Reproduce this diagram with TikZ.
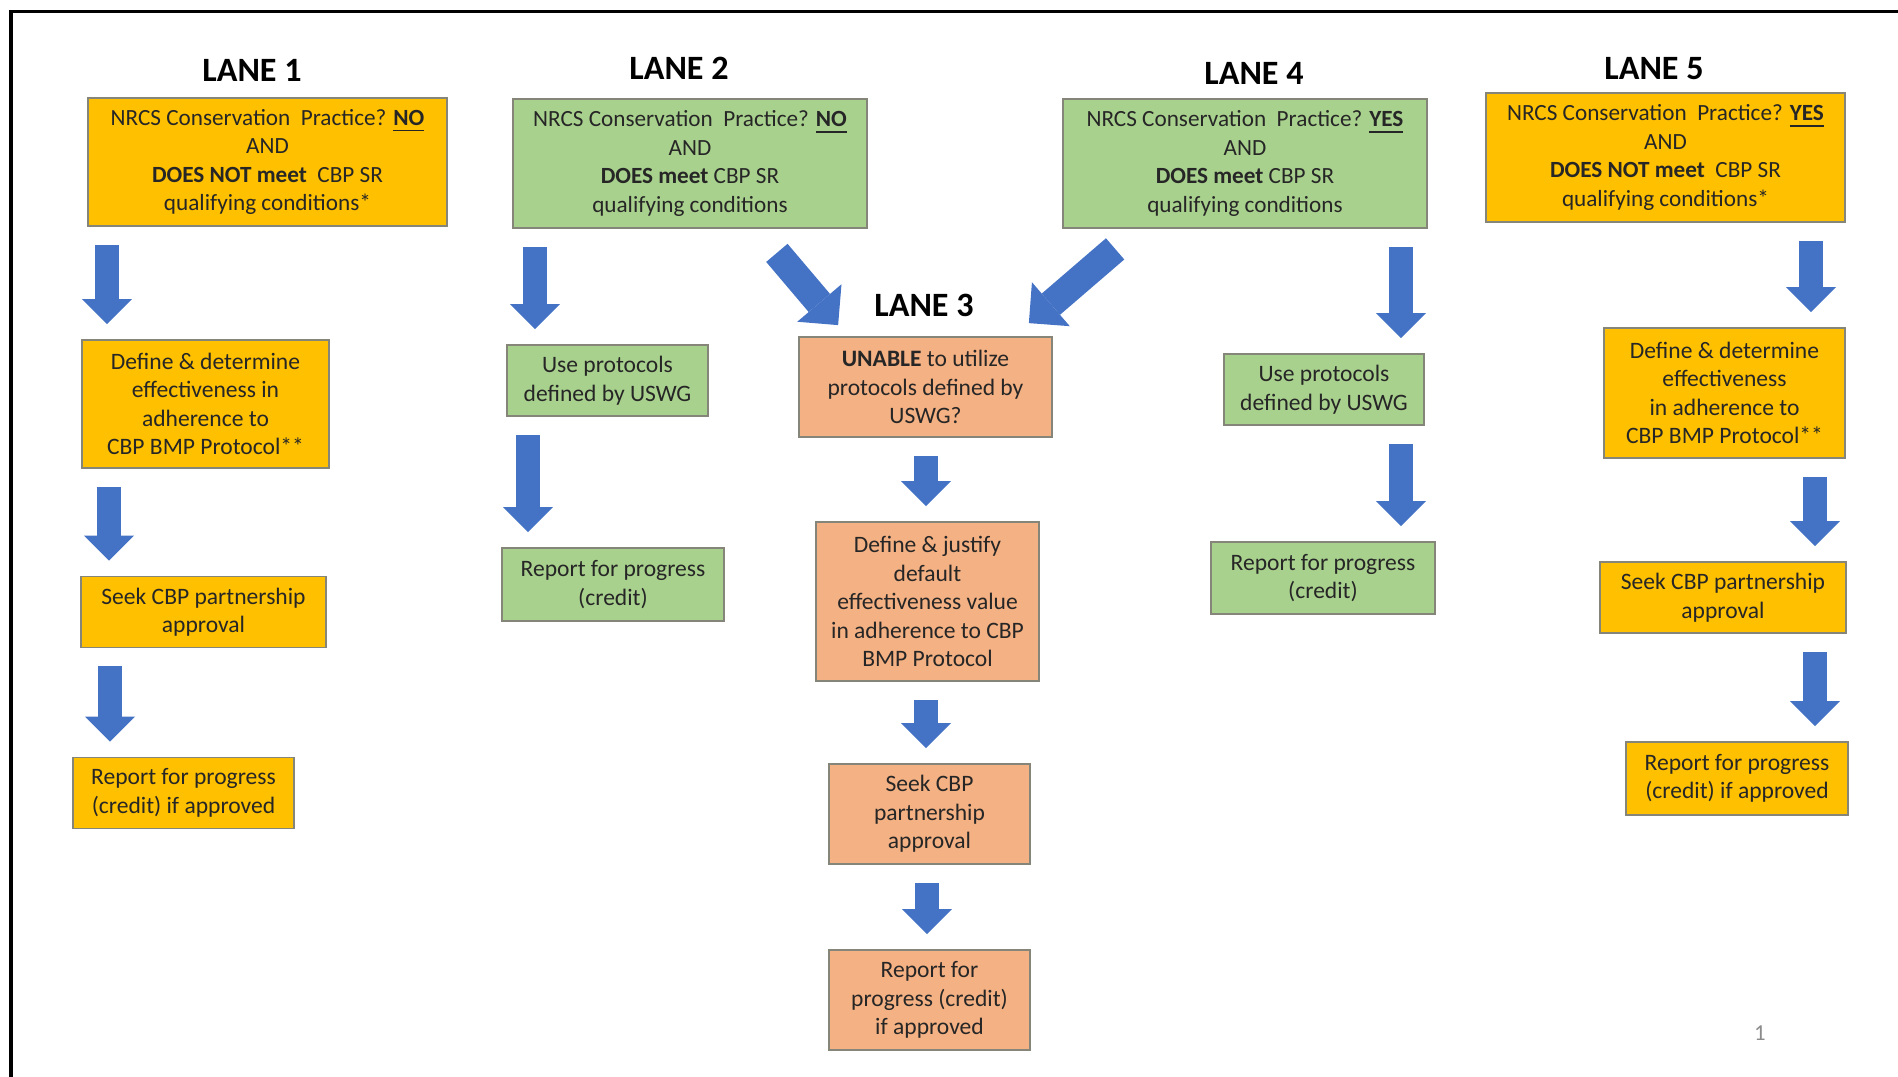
\documentclass[tikz,border=0pt]{standalone}
\usepackage{fontspec}
\setmainfont{Carlito}
\usetikzlibrary{arrows.meta}
\definecolor{lanegold}{HTML}{FFC000}
\definecolor{lanegreen}{HTML}{A9D18E}
\definecolor{lanesalmon}{HTML}{F4B183}
\definecolor{arrowblue}{HTML}{4472C4}
\definecolor{boxedge}{HTML}{85857A}

\begin{document}
\begin{tikzpicture}[every node/.style={font=\fontsize{6.7}{8.1}\selectfont, text=black!85},
	lbox/.style={draw=boxedge, line width=0.5pt, inner sep=0pt, align=center},
	goldbox/.style={lbox, fill=lanegold},
	greenbox/.style={lbox, fill=lanegreen},
	salmonbox/.style={lbox, fill=lanesalmon},
	headbox/.style={font=\fontsize{6.6}{8.1}\selectfont},
	lanetitle/.style={font=\fontsize{9.7}{11}\selectfont\bfseries, text=black},
	downarrow/.style={draw=arrowblue, line width=2.4mm, -{Triangle[width=5mm, length=2.5mm, line width=0pt]}},
	diagarrow/.style={draw=arrowblue, line width=2.8mm, -{Triangle[width=5.8mm, length=2.9mm, line width=0pt]}}]
	\useasboundingbox (0,0) rectangle (18.98,-10.77);
	\draw[line width=1.1pt] (0.11,-10.77) -- (0.11,-0.115) -- (18.98,-0.115);

	\node[lanetitle] (t1) at (2.52,-0.70) {LANE 1};
	\node[lanetitle] (t2) at (6.79,-0.68) {LANE 2};
	\node[lanetitle] (t3) at (9.24,-3.05) {LANE 3};
	\node[lanetitle] (t4) at (12.54,-0.73) {LANE 4};
	\node[lanetitle] (t5) at (16.54,-0.69) {LANE 5};

	\node[goldbox, headbox, minimum width=3.59cm, minimum height=1.28cm] (l1a) at (2.675,-1.62) {NRCS Conservation\ \ Practice? \underline{\textbf{NO}}\\ AND\\ \textbf{DOES NOT meet}\ \ CBP SR\\ qualifying conditions*};
	\node[goldbox, minimum width=2.47cm, minimum height=1.28cm] (l1b) at (2.055,-4.04) {Define \& determine\\ effectiveness in\\ adherence to\\ CBP BMP Protocol**};
	\node[goldbox, minimum width=2.45cm, minimum height=0.71cm] (l1c) at (2.035,-6.12) {Seek CBP partnership\\ approval};
	\node[goldbox, minimum width=2.21cm, minimum height=0.71cm] (l1d) at (1.835,-7.93) {Report for progress\\ (credit) if approved};

	\node[greenbox, headbox, minimum width=3.54cm, minimum height=1.29cm] (l2a) at (6.90,-1.635) {NRCS Conservation\ \ Practice? \underline{\textbf{NO}}\\ AND\\ \textbf{DOES meet} CBP SR\\ qualifying conditions};
	\node[greenbox, minimum width=2.01cm, minimum height=0.71cm] (l2b) at (6.075,-3.805) {Use protocols\\ defined by USWG};
	\node[greenbox, minimum width=2.22cm, minimum height=0.73cm] (l2c) at (6.13,-5.845) {Report for progress\\ (credit)};

	\node[salmonbox, minimum width=2.53cm, minimum height=1.00cm] (l3a) at (9.255,-3.87) {\textbf{UNABLE} to utilize\\ protocols defined by\\ USWG?};
	\node[salmonbox, minimum width=2.23cm, minimum height=1.59cm] (l3b) at (9.275,-6.015) {Define \& justify\\ default\\ effectiveness value\\ in adherence to CBP\\ BMP Protocol};
	\node[salmonbox, minimum width=2.01cm, minimum height=1.00cm] (l3c) at (9.295,-8.14) {Seek CBP\\ partnership\\ approval};
	\node[salmonbox, minimum width=2.01cm, minimum height=1.00cm] (l3d) at (9.295,-10.00) {Report for\\ progress (credit)\\ if approved};

	\node[greenbox, headbox, minimum width=3.64cm, minimum height=1.29cm] (l4a) at (12.45,-1.635) {NRCS Conservation\ \ Practice? \underline{\textbf{YES}}\\ AND\\ \textbf{DOES meet} CBP SR\\ qualifying conditions};
	\node[greenbox, minimum width=2.00cm, minimum height=0.71cm] (l4b) at (13.24,-3.895) {Use protocols\\ defined by USWG};
	\node[greenbox, minimum width=2.24cm, minimum height=0.72cm] (l4c) at (13.23,-5.78) {Report for progress\\ (credit)};

	\node[goldbox, headbox, minimum width=3.59cm, minimum height=1.29cm] (l5a) at (16.655,-1.575) {NRCS Conservation\ \ Practice? \underline{\textbf{YES}}\\ AND\\ \textbf{DOES NOT meet}\ \ CBP SR\\ qualifying conditions*};
	\node[goldbox, minimum width=2.41cm, minimum height=1.30cm] (l5b) at (17.245,-3.93) {Define \& determine\\ effectiveness\\ in adherence to\\ CBP BMP Protocol**};
	\node[goldbox, minimum width=2.46cm, minimum height=0.71cm] (l5c) at (17.23,-5.975) {Seek CBP partnership\\ approval};
	\node[goldbox, minimum width=2.22cm, minimum height=0.73cm] (l5d) at (17.37,-7.785) {Report for progress\\ (credit) if approved};

	\foreach \a/\b/\x in {l1a/l1b/1.07, l1b/l1c/1.09, l1c/l1d/1.10, l2a/l2b/5.35, l2b/l2c/5.28, l3a/l3b/9.26, l3b/l3c/9.26, l3c/l3d/9.27, l4a/l4b/14.01, l4b/l4c/14.01, l5a/l5b/18.11, l5b/l5c/18.15, l5c/l5d/18.15}
		\draw[downarrow] ([yshift=-1.8mm]\a.south -| \x,0) -- ([yshift=1.5mm]\b.north -| \x,0);
	\draw[diagarrow] ([shift={(-0.91,-0.24)}]l2a.south east) -- ([shift={(0.40,0.11)}]l3a.north west);
	\draw[diagarrow] ([shift={(0.53,-0.20)}]l4a.south west) -- ([shift={(-0.24,0.13)}]l3a.north east);

	\node[text=black!45, font=\fontsize{6.5}{7}\selectfont] (pnum) at (17.60,-10.33) {1};
\end{tikzpicture}
\end{document}
